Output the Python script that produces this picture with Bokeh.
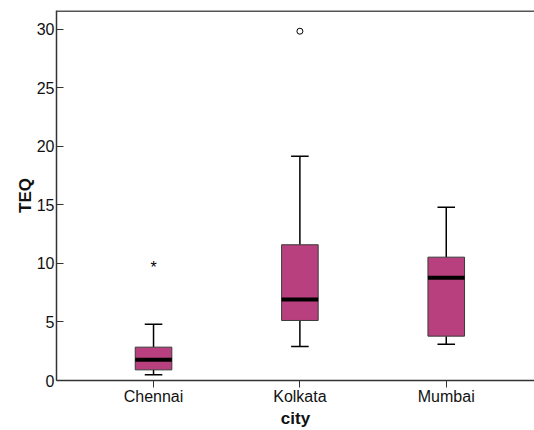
from bokeh.plotting import figure
from bokeh.models import Range1d, FixedTicker, ColumnDataSource, Span
from bokeh.core.properties import value
from bokeh.embed import file_html
from bokeh.resources import INLINE

cities = ["Chennai", "Kolkata", "Mumbai"]
lower_whisker = [0.49, 2.9, 3.1]
q1 = [0.91, 5.13, 3.79]
median = [1.77, 6.92, 8.78]
q3 = [2.85, 11.6, 10.54]
upper_whisker = [4.81, 19.17, 14.8]
outlier_circle_city = ["Kolkata"]
outlier_circle_val = [29.85]
extreme_star_city = ["Chennai"]
extreme_star_val = [9.89]
y_ticks = [0, 5, 10, 15, 20, 25, 30]
y_top = 31.62

pos = {c: i for i, c in enumerate(cities)}
xs = [pos[c] for c in cities]
BW = 0.25
CW = 0.12

src = ColumnDataSource(dict(
    x=xs, lw=lower_whisker, q1=q1, med=median, q3=q3, uw=upper_whisker,
    bl=[x - BW / 2 for x in xs], br=[x + BW / 2 for x in xs],
    cl=[x - CW / 2 for x in xs], cr=[x + CW / 2 for x in xs]))

p = figure(width=534, height=430, output_backend="svg", toolbar_location=None,
           x_range=Range1d(-0.663, 2.603), y_range=Range1d(0, y_top),
           min_border_left=56, min_border_right=0, min_border_top=10, min_border_bottom=50)
p.outline_line_color = None
p.grid.grid_line_color = None
p.background_fill_color = "white"
p.border_fill_color = "white"

# top frame line
p.add_layout(Span(location=y_top, dimension="width", line_color="#555555", line_width=3))

# whiskers
p.segment(x0="x", y0="lw", x1="x", y1="q1", source=src, line_color="black", line_width=1.5)
p.segment(x0="x", y0="q3", x1="x", y1="uw", source=src, line_color="black", line_width=1.5)
p.segment(x0="cl", y0="lw", x1="cr", y1="lw", source=src, line_color="black", line_width=1.5)
p.segment(x0="cl", y0="uw", x1="cr", y1="uw", source=src, line_color="black", line_width=1.5)
# boxes
p.vbar(x="x", bottom="q1", top="q3", width=BW, source=src, fill_color="#b8407e",
       line_color="#3a3a3a", line_width=1)
# medians
p.segment(x0="bl", y0="med", x1="br", y1="med", source=src, line_color="black", line_width=4)

# outliers
p.scatter(x=[pos[c] for c in outlier_circle_city], y=outlier_circle_val, marker="circle",
          size=6, fill_color="white", line_color="black", line_width=1)
p.text(x=[pos[c] for c in extreme_star_city], y=extreme_star_val, text=["*"],
       text_font=value("Liberation Sans"), text_font_size="16px", text_align="center",
       text_baseline="middle", y_offset=3, text_color="black")

FONT = "Liberation Sans"
p.xaxis.ticker = FixedTicker(ticks=xs)
p.xaxis.major_label_overrides = {i: c for i, c in enumerate(cities)}
p.yaxis.ticker = FixedTicker(ticks=y_ticks)
for ax in (p.xaxis, p.yaxis):
    ax.axis_line_color = "#333333"
    ax.axis_line_width = 1.5
    ax.major_tick_line_color = "#333333"
    ax.minor_tick_line_color = None
    ax.major_label_text_font = FONT
    ax.major_label_text_font_size = "16px"
    ax.major_label_text_color = "#111111"
    ax.axis_label_text_font = FONT
    ax.axis_label_text_font_size = "17px"
    ax.axis_label_text_font_style = "bold"
    ax.axis_label_text_color = "#111111"
p.xaxis.major_tick_in = 0
p.xaxis.major_tick_out = 7
p.yaxis.major_tick_in = 7
p.yaxis.major_tick_out = 0
p.yaxis.major_label_standoff = 2
p.xaxis.major_label_standoff = 0
p.xaxis.axis_label = "city"
p.yaxis.axis_label = "TEQ"
p.xaxis.axis_label_standoff = 1
p.yaxis.axis_label_standoff = -1

open("out.html", "w").write(file_html(p, INLINE))
